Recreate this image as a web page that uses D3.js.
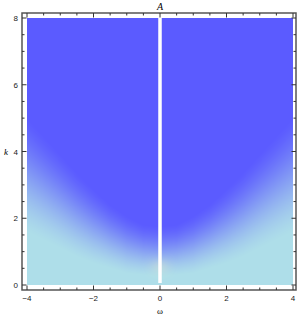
<!DOCTYPE html>
<meta charset="utf-8">
<style>
  body { margin: 0; background: #fff; }
  .tick-label { font-family: "Liberation Sans", sans-serif; font-size: 8px; fill: #222; }
</style>
<svg width="300" height="319"></svg>
<script src="https://cdn.jsdelivr.net/npm/d3@7"></script>
<script>
  // values (symmetric in omega)
  var omegaPts = [0, 0.5, 1, 1.5, 2, 2.5, 3, 3.5, 4];
  var kMid     = [1.0, 1.05, 1.2, 1.45, 1.75, 2.1, 2.5, 2.9, 3.3];
  var kWidth   = [1.5, 1.5, 1.7, 1.9, 2.2, 2.5, 2.8, 3.1, 3.4];
  var xTicks = [-4, -2, 0, 2, 4];
  var yTicks = [0, 2, 4, 6, 8];
  var lowColor = "#aedee9", highColor = "#5b5bff";

  var svg = d3.select("svg"),
    width = +svg.attr("width"),
    height = +svg.attr("height");

  var x = d3.scaleLinear().domain([-4, 4]).range([27, 293]);
  var y = d3.scaleLinear().domain([0, 8]).range([285, 18]);
  var frame = { left: 22, right: 296, top: 13, bottom: 290 };

  var midScale = d3.scaleLinear().domain(omegaPts).range(kMid).clamp(true);
  var widScale = d3.scaleLinear().domain(omegaPts).range(kWidth).clamp(true);
  var blend = d3.interpolateRgb(lowColor, highColor);

  // density image
  var x0 = Math.round(x(-4)), x1 = Math.round(x(4)),
      y0 = Math.round(y(8)), y1 = Math.round(y(0));
  var cw = x1 - x0, ch = y1 - y0;
  var canvas = document.createElement("canvas");
  canvas.width = cw; canvas.height = ch;
  var ctx = canvas.getContext("2d");
  var img = ctx.createImageData(cw, ch);
  for (var j = 0; j < ch; j++) {
    var k = y.invert(y0 + j + 0.5);
    for (var i = 0; i < cw; i++) {
      var w = Math.abs(x.invert(x0 + i + 0.5));
      var m = midScale(w), s = widScale(w);
      var t = (k - (m - s / 2)) / s;
      t = Math.max(0, Math.min(1, t));
      t = 0.5 * t + 0.5 * t * t * (3 - 2 * t);
      var c = d3.rgb(blend(t));
      // faint warm glow near the origin
      var g = Math.exp(-(w * w) / 0.08 - Math.pow(k - 0.55, 2) / 0.06) * 0.3;
      var p = (j * cw + i) * 4;
      img.data[p] = c.r + (235 - c.r) * g;
      img.data[p + 1] = c.g + (240 - c.g) * g;
      img.data[p + 2] = c.b + (200 - c.b) * g;
      img.data[p + 3] = 255;
    }
  }
  ctx.putImageData(img, 0, 0);

  svg.append("image")
    .attr("x", x0).attr("y", y0)
    .attr("width", cw).attr("height", ch)
    .attr("preserveAspectRatio", "none")
    .attr("href", canvas.toDataURL());

  // white line at omega = 0
  svg.append("rect")
    .attr("x", x(0) - 1.75).attr("y", frame.top)
    .attr("width", 3.5).attr("height", y(0.06) - frame.top)
    .attr("fill", "#fff");

  // frame
  svg.append("rect")
    .attr("x", frame.left).attr("y", frame.top)
    .attr("width", frame.right - frame.left).attr("height", frame.bottom - frame.top)
    .attr("fill", "none").attr("stroke", "#555").attr("stroke-width", 1.5);

  var ticks = svg.append("g").attr("stroke", "#333").attr("stroke-width", 1);
  d3.range(-4, 4.01, 0.5).forEach(function(v) {
    var major = Math.abs(v % 2) < 1e-9;
    var len = major ? 4.5 : 2.5;
    var px = x(v);
    ticks.append("line").attr("x1", px).attr("x2", px)
      .attr("y1", frame.bottom).attr("y2", frame.bottom - len);
    ticks.append("line").attr("x1", px).attr("x2", px)
      .attr("y1", frame.top).attr("y2", frame.top + len);
  });
  d3.range(0, 8.01, 0.5).forEach(function(v) {
    var major = Math.abs(v % 2) < 1e-9;
    var len = major ? 4.5 : 2.5;
    var py = y(v);
    ticks.append("line").attr("y1", py).attr("y2", py)
      .attr("x1", frame.left).attr("x2", frame.left + len);
    ticks.append("line").attr("y1", py).attr("y2", py)
      .attr("x1", frame.right).attr("x2", frame.right - len);
  });

  svg.selectAll(".xl").data(xTicks).enter().append("text")
    .attr("class", "tick-label")
    .attr("x", function(d) { return x(d); })
    .attr("y", 301)
    .attr("text-anchor", "middle")
    .text(function(d) { return d < 0 ? "\u2212" + (-d) : d; });

  svg.selectAll(".yl").data(yTicks).enter().append("text")
    .attr("class", "tick-label")
    .attr("x", 18)
    .attr("y", function(d) { return y(d) + 3; })
    .attr("text-anchor", "end")
    .text(function(d) { return d; });

  svg.append("text").attr("x", x(0)).attr("y", 314)
    .attr("text-anchor", "middle")
    .style("font-family", "Liberation Serif, serif").style("font-size", "9px")
    .text("\u03c9");
  svg.append("text").attr("x", 6).attr("y", 155)
    .attr("text-anchor", "middle")
    .style("font-family", "Liberation Serif, serif").style("font-size", "9px")
    .style("font-style", "italic")
    .text("k");
  svg.append("text").attr("x", x(0)).attr("y", 10)
    .attr("text-anchor", "middle")
    .style("font-family", "Liberation Serif, serif").style("font-size", "10px")
    .style("font-style", "italic")
    .text("A");
</script>
